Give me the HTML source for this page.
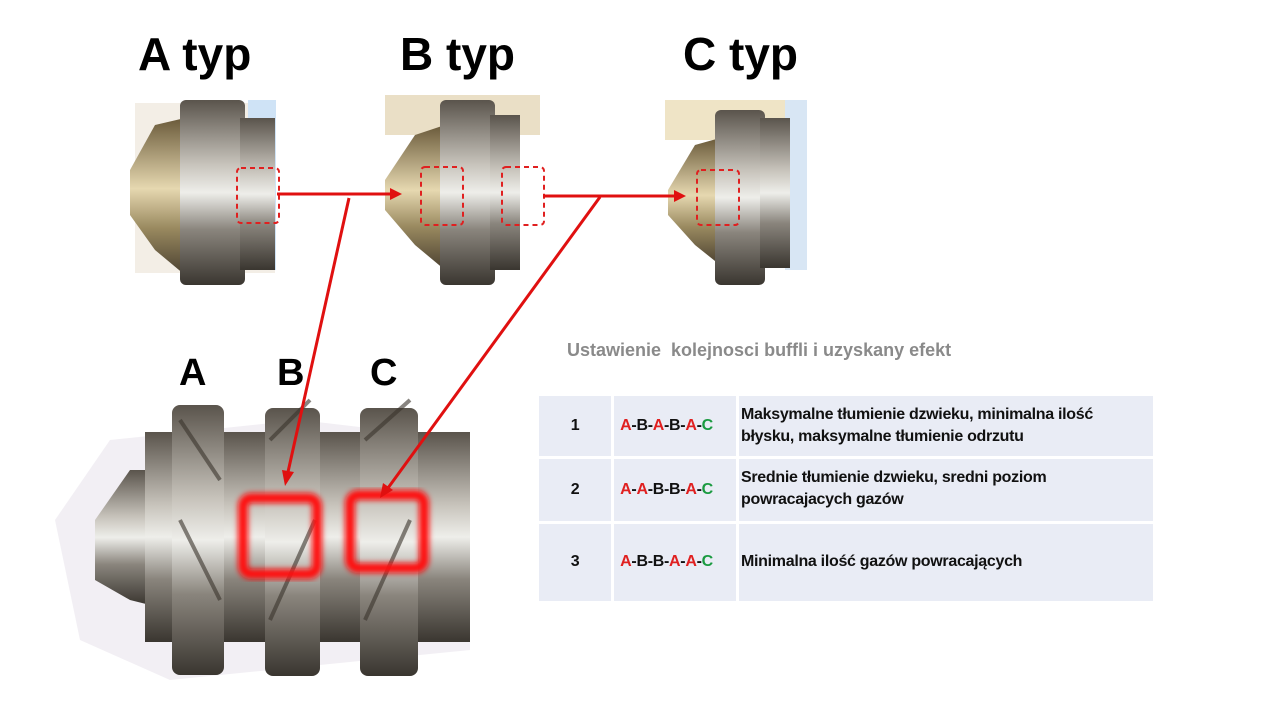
<!DOCTYPE html>
<html><head><meta charset="utf-8"><style>
body{margin:0;width:1280px;height:720px;background:#fff;position:relative;overflow:hidden;font-family:"Liberation Sans",sans-serif}
.t{position:absolute;font-weight:bold;color:#000}
table{position:absolute;left:536px;top:396px;width:620px;border-collapse:collapse;font-family:"Liberation Sans",sans-serif;font-weight:bold;font-size:16px;color:#111;letter-spacing:-0.3px}
td{background:#e9ecf5;border:3px solid #fff;border-top:none;border-bottom:3px solid #fff;padding:0}
.r{color:#e02020}.g{color:#1a9a40}
</style></head><body>
<svg width="1280" height="720" style="position:absolute;left:0;top:0">
<defs>
<linearGradient id="m" x1="0" y1="0" x2="0" y2="1"><stop offset="0" stop-color="#5a544c"/><stop offset=".35" stop-color="#c8c4bc"/><stop offset=".5" stop-color="#eeeeea"/><stop offset=".7" stop-color="#8a857d"/><stop offset="1" stop-color="#3a3630"/></linearGradient>
<linearGradient id="br" x1="0" y1="0" x2="0" y2="1"><stop offset="0" stop-color="#6a5a3a"/><stop offset=".45" stop-color="#e6d8b0"/><stop offset=".7" stop-color="#9a8a60"/><stop offset="1" stop-color="#4a4030"/></linearGradient>
<filter id="bl"><feGaussianBlur stdDeviation="3"/></filter>
</defs>
<rect x="135" y="103" width="140" height="170" fill="#f3eee6"/>
<rect x="248" y="100" width="28" height="170" fill="#cfe3f6"/>
<path d="M130 170 L155 125 L185 118 L185 275 L155 250 L130 215Z" fill="url(#br)"/>
<rect x="180" y="100" width="65" height="185" rx="6" fill="url(#m)"/>
<rect x="240" y="118" width="35" height="152" fill="url(#m)"/>
<rect x="385" y="95" width="155" height="40" fill="#eadfc6"/>
<path d="M385 180 L415 135 L445 125 L445 270 L415 245 L385 210Z" fill="url(#br)"/>
<rect x="440" y="100" width="55" height="185" rx="6" fill="url(#m)"/>
<rect x="490" y="115" width="30" height="155" fill="url(#m)"/>
<rect x="665" y="100" width="140" height="40" fill="#efe4c6"/>
<rect x="785" y="100" width="22" height="170" fill="#d8e6f4"/>
<path d="M668 190 L695 145 L720 138 L720 265 L695 245 L668 215Z" fill="url(#br)"/>
<rect x="715" y="110" width="50" height="175" rx="6" fill="url(#m)"/>
<rect x="760" y="118" width="30" height="150" fill="url(#m)"/>
<g fill="none" stroke="#e02020" stroke-width="2" stroke-dasharray="5 4">
<rect x="237" y="168" width="42" height="55" rx="4"/><rect x="421" y="167" width="42" height="58" rx="4"/><rect x="502" y="167" width="42" height="58" rx="4"/><rect x="697" y="170" width="42" height="55" rx="4"/>
</g>
<path d="M55 520 L110 440 L300 420 L470 440 L470 650 L170 680 L80 640Z" fill="#ece8ef" opacity=".7"/>
<path d="M95 520 L130 470 L150 470 L150 605 L130 600 L95 580Z" fill="url(#m)"/>
<rect x="145" y="432" width="325" height="210" fill="url(#m)"/>
<rect x="172" y="405" width="52" height="270" rx="8" fill="url(#m)"/>
<rect x="265" y="408" width="55" height="268" rx="8" fill="url(#m)"/>
<rect x="360" y="408" width="58" height="268" rx="8" fill="url(#m)"/>
<g stroke="#3a342c" stroke-width="4" opacity=".6">
<line x1="180" y1="420" x2="220" y2="480"/><line x1="180" y1="520" x2="220" y2="600"/><line x1="270" y1="440" x2="310" y2="400"/><line x1="270" y1="620" x2="315" y2="520"/><line x1="365" y1="620" x2="410" y2="520"/><line x1="365" y1="440" x2="410" y2="400"/>
</g>
<g fill="none" stroke="#ff1010" stroke-width="10" filter="url(#bl)">
<rect x="243" y="498" width="74" height="76" rx="8"/><rect x="350" y="495" width="74" height="73" rx="8"/>
</g>
<g stroke="#e01010" stroke-width="3" fill="#e01010">
<line x1="277" y1="194" x2="392" y2="194"/><polygon points="402,194 390,188 390,200" stroke="none"/>
<line x1="543" y1="196" x2="676" y2="196"/><polygon points="686,196 674,190 674,202" stroke="none"/>
<line x1="349" y1="198" x2="288" y2="472"/><polygon points="285,486 282,470 294,472" stroke="none"/>
<line x1="600" y1="197" x2="388" y2="488"/><polygon points="380,498 383,483 393,490" stroke="none"/>
</g>
</svg>
<div class="t" style="left:138px;top:27px;font-size:46px">A typ</div>
<div class="t" style="left:400px;top:27px;font-size:46px">B typ</div>
<div class="t" style="left:683px;top:27px;font-size:46px">C typ</div>
<div class="t" style="left:179px;top:352px;font-size:38px">A</div>
<div class="t" style="left:277px;top:352px;font-size:38px">B</div>
<div class="t" style="left:370px;top:352px;font-size:38px">C</div>
<div class="t" style="left:567px;top:340px;font-size:18px;color:#8a8a8a">Ustawienie&nbsp; kolejnosci buffli i uzyskany efekt</div>
<table>
<tr style="height:61px"><td style="width:72px;text-align:center">1</td><td style="width:120px;padding-left:2px">&nbsp;<span class="r">A</span>-B-<span class="r">A</span>-B-<span class="r">A</span>-<span class="g">C</span></td><td style="padding-left:2px;line-height:22px">Maksymalne tłumienie dzwieku, minimalna ilość<br>błysku, maksymalne tłumienie odrzutu</td></tr>
<tr style="height:65px"><td style="text-align:center">2</td><td style="padding-left:2px">&nbsp;<span class="r">A</span>-<span class="r">A</span>-B-B-<span class="r">A</span>-<span class="g">C</span></td><td style="padding-left:2px;line-height:22px;vertical-align:top;padding-top:8px">Srednie tłumienie dzwieku, sredni poziom<br>powracajacych gazów</td></tr>
<tr style="height:79px"><td style="text-align:center;border-bottom:none">3</td><td style="padding-left:2px;border-bottom:none">&nbsp;<span class="r">A</span>-B-B-<span class="r">A</span>-<span class="r">A</span>-<span class="g">C</span></td><td style="padding-left:2px;border-bottom:none">Minimalna ilość gazów powracających</td></tr>
</table>
</body></html>
